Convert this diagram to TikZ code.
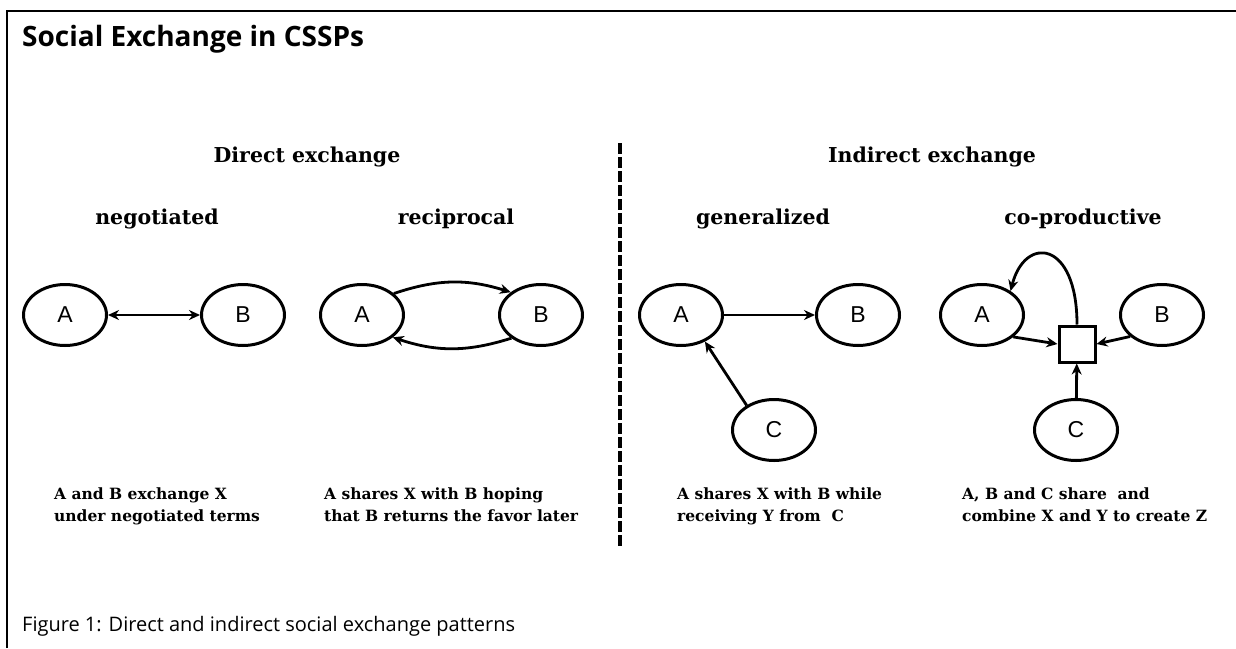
\documentclass[tikz,border=0pt]{standalone}
\usepackage{fontspec}
\setmainfont{DejaVu Serif}
\newfontfamily\titlefont{Open Sans}
\newfontfamily\labfont{Liberation Sans}
\newfontfamily\bodyfont{DejaVu Serif}
\usetikzlibrary{arrows.meta,shapes.geometric}
\tikzset{
  ent/.style={ellipse, draw, line width=3pt, minimum width=83pt, minimum height=61pt,
    inner sep=0pt, font=\labfont\fontsize{23}{23}\selectfont},
  hub/.style={draw, line width=3pt, minimum size=36pt, inner sep=0pt},
  arr/.style={line width=2.8pt, -{Stealth[length=11pt,width=10pt]}},
  darr/.style={line width=2.8pt, {Stealth[length=11pt,width=10pt]}-{Stealth[length=11pt,width=10pt]}},
  headtxt/.style={font=\bodyfont\bfseries\fontsize{20.5}{24}\selectfont, inner sep=0pt},
  bodytxt/.style={font=\bodyfont\bfseries\fontsize{15.5}{19}\selectfont, inner sep=0pt, anchor=base west},
  frameline/.style={line width=2.5pt},
}
\begin{document}
\begin{tikzpicture}[x=1pt,y=-1pt]
\useasboundingbox (0,0) rectangle (1236,648);
\fill[white] (0,0) rectangle (1236,648);
% frame
\draw[frameline] (7,648) -- (7,11) -- (1236,11);
% title and caption
\node[anchor=base west, inner sep=0pt, font=\titlefont\bfseries\fontsize{28}{32}\selectfont] (title) at (22,46) {Social Exchange in CSSPs};
\node[anchor=base west, inner sep=0pt, font=\titlefont\fontsize{20}{24}\selectfont] (caption) at (22,631) {Figure 1: Direct and indirect social exchange patterns};
% divider
\draw[line width=4pt, dash pattern=on 11pt off 3pt] (620,143) -- (620,547);
% headers
\node[headtxt, anchor=base] (hdir) at (307,162) {Direct exchange};
\node[headtxt, anchor=base] (hind) at (932,162) {Indirect exchange};
\node[headtxt, anchor=base] (hneg) at (157,224) {negotiated};
\node[headtxt, anchor=base] (hrec) at (456,224) {reciprocal};
\node[headtxt, anchor=base] (hgen) at (763,224) {generalized};
\node[headtxt, anchor=base] (hcop) at (1083,224) {co-productive};
% negotiated
\node[ent] (na) at (65,315) {A};
\node[ent] (nb) at (243,315) {B};
\draw[darr] (na) -- (nb);
% reciprocal
\node[ent] (ra) at (362,315) {A};
\node[ent] (rb) at (541,315) {B};
\draw[arr] (ra.34) to[bend left=18] (rb.143);
\draw[arr] (rb.218) to[bend left=18] (ra.324);
% generalized
\node[ent] (ga) at (681,315) {A};
\node[ent] (gb) at (858,315) {B};
\node[ent] (gc) at (774,430) {C};
\draw[arr] (ga) -- (gb);
\draw[arr] (gc.138) -- (ga.-48);
% co-productive
\node[ent] (ca) at (982,315) {A};
\node[ent] (cb) at (1162,315) {B};
\node[ent] (cc) at (1076,430) {C};
\node[hub] (sq) at (1077,344) {};
\draw[arr] (ca.-35) -- (sq.west);
\draw[arr] (cb.214) -- (sq.east);
\draw[arr] (cc) -- (sq);
\draw[arr] (sq.north) .. controls (1077,240) and (1025,235) .. (ca.40);
% descriptions
\node[bodytxt] (t1a) at (54,499) {A and B exchange X};
\node[bodytxt] (t1b) at (54,521) {under negotiated terms};
\node[bodytxt] (t2a) at (324,499) {A shares X with B hoping};
\node[bodytxt] (t2b) at (324,521) {that B returns the favor later};
\node[bodytxt] (t3a) at (677,499) {A shares X with B while};
\node[bodytxt] (t3b) at (677,521) {receiving Y from\ \ C};
\node[bodytxt] (t4a) at (962,499) {A, B and C share\ \ and};
\node[bodytxt] (t4b) at (962,521) {combine X and Y to create Z};
\end{tikzpicture}
\end{document}
